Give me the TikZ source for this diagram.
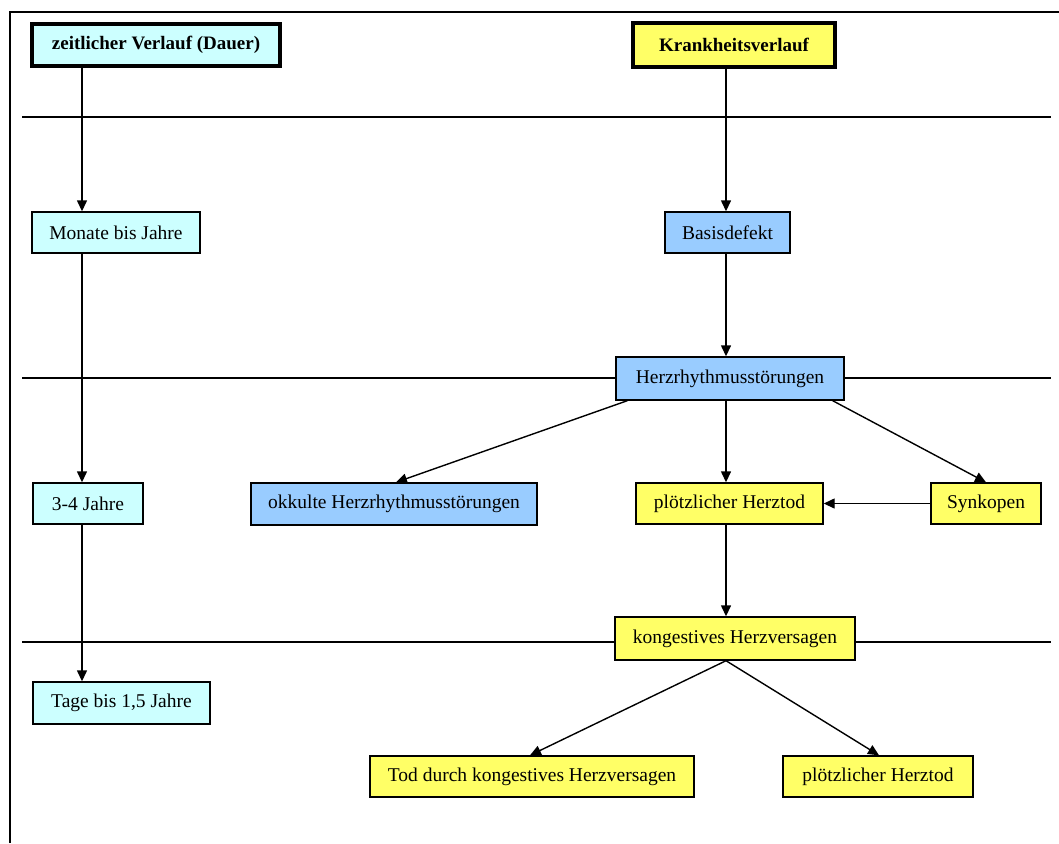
\documentclass[tikz,border=0pt]{standalone}
\usepackage{fontspec}
\setmainfont{Liberation Serif}
\usetikzlibrary{arrows.meta}
\definecolor{cyanl}{HTML}{CCFFFF}
\definecolor{yell}{HTML}{FFFF66}
\definecolor{bluel}{HTML}{99CCFF}
\begin{document}
\begin{tikzpicture}[x=1pt,y=-1pt,
  box/.style={draw=black,line width=1.4pt,inner sep=0pt,font=\fontsize{19.5}{22}\selectfont,anchor=center},
  cbox/.style={box,fill=cyanl},
  ybox/.style={box,fill=yell},
  bbox/.style={box,fill=bluel},
  title/.style={line width=3.6pt,font=\fontsize{19}{22}\selectfont\bfseries},
  conn/.style={line width=1.4pt,-{Triangle[length=11pt,width=10pt]}},
  hline/.style={line width=1.4pt}]
\useasboundingbox (0,0) rectangle (1059,843);
% frame
\draw[line width=2.8pt] (10,843) -- (10,12) -- (1059,12);
% nodes
\node[cbox,title,minimum width=248,minimum height=42] (zeit) at (156,45) {zeitlicher Verlauf (Dauer)};
\node[ybox,title,minimum width=202,minimum height=44] (krank) at (734,45) {Krankheitsverlauf};
\node[cbox,minimum width=168,minimum height=41] (monate) at (116,232.5) {Monate bis Jahre};
\node[bbox,minimum width=125,minimum height=41] (basis) at (727.5,232.5) {Basisdefekt};
\coordinate (lx) at (82,0);
\coordinate (rx) at (726,0);
% horizontal lines (behind boxes)
\coordinate (l1a) at (22,117); \coordinate (l1b) at (1051,117);
\coordinate (l2a) at (22,378); \coordinate (l2b) at (1051,378);
\coordinate (l3a) at (22,642); \coordinate (l3b) at (1051,642);
\draw[hline] (l1a) -- (l1b);
\draw[hline] (l2a) -- (l2b);
\draw[hline] (l3a) -- (l3b);
\node[bbox,minimum width=228,minimum height=43] (herz) at (730,378.5) {Herzrhythmusstörungen};
\node[bbox,minimum width=286,minimum height=42] (okk) at (394,504) {okkulte Herzrhythmusstörungen};
\node[ybox,minimum width=187,minimum height=41] (ploetz) at (729.5,503.5) {plötzlicher Herztod};
\node[ybox,minimum width=110,minimum height=41] (synk) at (986,503.5) {Synkopen};
\node[cbox,minimum width=110,minimum height=41] (drei) at (88,503.5) {3-4 Jahre};
\node[ybox,minimum width=240,minimum height=43] (kong) at (735,638.5) {kongestives Herzversagen};
\node[cbox,minimum width=177,minimum height=42] (tage) at (121.5,703) {Tage bis 1,5 Jahre};
\node[ybox,minimum width=324,minimum height=41] (tod) at (532,776.5) {Tod durch kongestives Herzversagen};
\node[ybox,minimum width=190,minimum height=41] (ploetzb) at (878,776.5) {plötzlicher Herztod};
% connectors left
\draw[conn] (zeit.south -| lx) -- (monate.north -| lx);
\draw[conn] (monate.south -| lx) -- (drei.north -| lx);
\draw[conn] (drei.south -| lx) -- (tage.north -| lx);
% connectors right
\draw[conn] (krank.south -| rx) -- (basis.north -| rx);
\draw[conn] (basis.south -| rx) -- (herz.north -| rx);
\draw[conn] ([xshift=12pt]herz.south west) -- ([xshift=2pt]okk.north);
\draw[conn] (herz.south -| rx) -- (ploetz.north -| rx);
\draw[conn] ([xshift=-12pt]herz.south east) -- (synk.north);
\draw[conn] (synk.west) -- (ploetz.east);
\draw[conn] (ploetz.south -| rx) -- (kong.north -| rx);
\draw[conn] (kong.south -| rx) -- ([xshift=-2pt]tod.north);
\draw[conn] (kong.south -| rx) -- ([xshift=1pt]ploetzb.north);
\end{tikzpicture}
\end{document}
